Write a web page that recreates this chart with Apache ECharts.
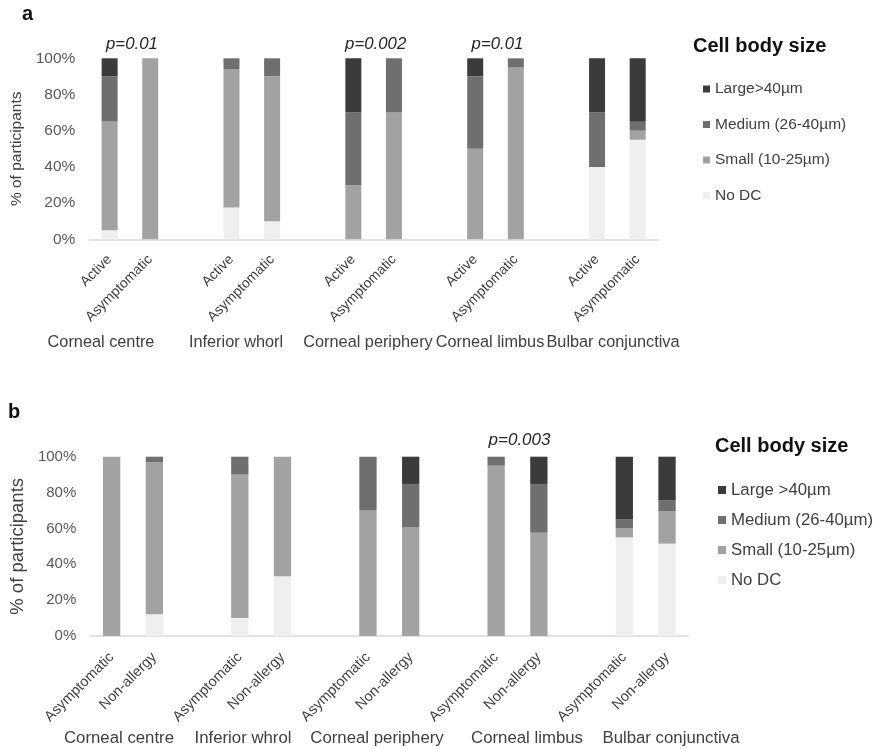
<!DOCTYPE html>
<html>
<head>
<meta charset="utf-8">
<script src="https://cdn.jsdelivr.net/npm/echarts@6/dist/echarts.min.js"></script>
<style>
  html, body { margin: 0; padding: 0; background: #ffffff; }
  #chart { width: 873px; height: 749px; }
</style>
</head>
<body>
<div id="chart"></div>
<script>
// ---- Panel a: Active vs Asymptomatic ----
const regionsA = ['Corneal centre', 'Inferior whorl', 'Corneal periphery', 'Corneal limbus', 'Bulbar conjunctiva'];
const groupsA = ['Active', 'Asymptomatic'];
// one value per bar, region by region (Active, Asymptomatic)
const noDcA   = [5, 0, 17.6, 10, 0, 0, 0, 0, 40, 55];
const smallA  = [60, 100, 76.5, 80, 30, 70, 50, 95, 0, 5];
const mediumA = [25, 0, 5.9, 10, 40, 30, 40, 5, 30, 5];
const largeA  = [10, 0, 0, 0, 30, 0, 10, 0, 30, 35];
const pValuesA = [['Corneal centre', 'p=0.01'], ['Corneal periphery', 'p=0.002'], ['Corneal limbus', 'p=0.01']];
const legendNamesA = ['Large>40µm', 'Medium (26-40µm)', 'Small (10-25µm)', 'No DC'];

// ---- Panel b: Asymptomatic vs Non-allergy ----
const regionsB = ['Corneal centre', 'Inferior whrol', 'Corneal periphery', 'Corneal limbus', 'Bulbar conjunctiva'];
const groupsB = ['Asymptomatic', 'Non-allergy'];
const noDcB   = [0, 12.1, 10, 33.3, 0, 0, 0, 0, 55, 51.5];
const smallB  = [100, 84.8, 80, 66.7, 70, 60.6, 95, 57.6, 5, 18.2];
const mediumB = [0, 3.1, 10, 0, 30, 24.2, 5, 27.2, 5, 6.1];
const largeB  = [0, 0, 0, 0, 0, 15.2, 0, 15.2, 35, 24.2];
const pValuesB = [['Corneal limbus', 'p=0.003']];
const legendNamesB = ['Large >40µm', 'Medium (26-40µm)', 'Small (10-25µm)', 'No DC'];

const yTicks = [0, 20, 40, 60, 80, 100];
const legendTitle = 'Cell body size';

// ---- styling ----
const FONT = 'Liberation Sans, Arial, Helvetica, sans-serif';
const shades = ['#3b3b3b', '#6f6f6f', '#a2a2a2', '#efefef'];   // large, medium, small, none
const TEXT = '#404040';

// Region label centres (px) under each panel
const regionLabelX = { a: [101, 236, 368, 490, 613], b: [119, 243, 377, 527, 671] };

// Build the category slots: two bars per region with an empty slot in between.
function buildCategories(regions, groups) {
  const cats = [];
  regions.forEach((r, i) => {
    groups.forEach(g => cats.push(g));
    if (i < regions.length - 1) cats.push('');
  });
  return cats;
}
function spread(values, regions, groups) {
  const out = [];
  let k = 0;
  regions.forEach((r, i) => {
    groups.forEach(() => out.push(values[k++]));
    if (i < regions.length - 1) out.push(null);
  });
  return out;
}

const catsA = buildCategories(regionsA, groupsA);
const catsB = buildCategories(regionsB, groupsB);

const chart = echarts.init(document.getElementById('chart'), null, { renderer: 'canvas' });

function stackSeries(names, values, regions, groups, axisIndex, stack, barWidth) {
  // bottom-up order: none, small, medium, large
  const order = [3, 2, 1, 0];
  return order.map(i => ({
    name: names[i],
    type: 'bar',
    stack: stack,
    xAxisIndex: axisIndex,
    yAxisIndex: axisIndex,
    barWidth: barWidth,
    itemStyle: { color: shades[i] },
    emphasis: { disabled: true },
    data: spread(values[i], regions, groups)
  }));
}

function xAxisFor(cats, gridIndex, fontSize, margin) {
  return {
    type: 'category', gridIndex: gridIndex, data: cats,
    axisLine: { lineStyle: { color: '#d9d9d9', width: 1.5 } },
    axisTick: { show: false },
    axisLabel: { interval: 0, rotate: 45, margin: margin, color: TEXT, fontFamily: FONT, fontSize: fontSize }
  };
}
function yAxisFor(gridIndex, labelSize, nameSize, nameGap) {
  return {
    type: 'value', gridIndex: gridIndex, min: 0, max: 100, interval: 20,
    name: '% of participants', nameLocation: 'middle', nameGap: nameGap, nameRotate: 90,
    nameTextStyle: { color: TEXT, fontFamily: FONT, fontSize: nameSize },
    axisLine: { show: false }, axisTick: { show: false }, splitLine: { show: false },
    axisLabel: { margin: 14, color: '#595959', fontFamily: FONT, fontSize: labelSize,
      formatter: v => yTicks.indexOf(v) >= 0 ? v + '%' : '' }
  };
}

const option = {
  animation: false,
  backgroundColor: '#ffffff',
  title: [
    { text: 'a', left: 22, top: 4, padding: 0, textStyle: { fontFamily: FONT, fontWeight: 'bold', fontSize: 20, color: '#111' } },
    { text: 'b', left: 8, top: 402, padding: 0, textStyle: { fontFamily: FONT, fontWeight: 'bold', fontSize: 20, color: '#111' } },
    { text: legendTitle, left: 693, top: 36, padding: 0, textStyle: { fontFamily: FONT, fontWeight: 'bold', fontSize: 20, color: '#111' } },
    { text: legendTitle, left: 715, top: 436, padding: 0, textStyle: { fontFamily: FONT, fontWeight: 'bold', fontSize: 20, color: '#111' } }
  ],
  legend: [
    { data: legendNamesA, orient: 'vertical', left: 703, top: 80, padding: 0, itemGap: 17.5,
      icon: 'rect', itemWidth: 7, itemHeight: 7, selectedMode: false,
      textStyle: { fontFamily: FONT, fontSize: 15.5, lineHeight: 18, color: TEXT } },
    { data: legendNamesB, orient: 'vertical', left: 718, top: 481, padding: 0, itemGap: 12,
      icon: 'rect', itemWidth: 8, itemHeight: 8, selectedMode: false,
      textStyle: { fontFamily: FONT, fontSize: 16.8, lineHeight: 18, color: TEXT } }
  ],
  grid: [
    { left: 89.3, top: 58.3, width: 568.7, height: 181 },
    { left: 83.6, top: 456.7, width: 604.8, height: 179.3 }
  ],
  xAxis: [ xAxisFor(catsA, 0, 14, 18), xAxisFor(catsB, 1, 14.5, 19) ],
  yAxis: [ yAxisFor(0, 15.5, 15.5, 58), yAxisFor(1, 15, 18.5, 53) ],
  series: [].concat(
    stackSeries(legendNamesA, [largeA, mediumA, smallA, noDcA], regionsA, groupsA, 0, 'a', 16),
    stackSeries(legendNamesB, [largeB, mediumB, smallB, noDcB], regionsB, groupsB, 1, 'b', 17.3)
  )
};
chart.setOption(option);

// Region names and p-values, placed from the axis scales
function overlay(regions, cats, groups, gridIdx, pList, labelXs, labelY, labelSize, pSize, pOffset) {
  const els = [];
  regions.forEach((r, i) => {
    els.push({ type: 'text', x: labelXs[i], y: labelY,
      style: { text: r, fill: TEXT, font: labelSize + 'px ' + FONT, textAlign: 'center', textVerticalAlign: 'middle' } });
  });
  pList.forEach(([region, txt]) => {
    const ri = regions.indexOf(region);
    const first = ri * (groups.length + 1);
    const p0 = chart.convertToPixel({ gridIndex: gridIdx }, [first, 100]);
    const p1 = chart.convertToPixel({ gridIndex: gridIdx }, [first + 1, 100]);
    els.push({ type: 'text', x: (p0[0] + p1[0]) / 2 + 2, y: p0[1] - pOffset,
      style: { text: txt, fill: '#262626', font: 'italic ' + pSize + 'px ' + FONT, textAlign: 'center', textVerticalAlign: 'middle' } });
  });
  return els;
}
chart.setOption({
  graphic: [].concat(
    overlay(regionsA, catsA, groupsA, 0, pValuesA, regionLabelX.a, 343, 16.3, 16.8, 14),
    overlay(regionsB, catsB, groupsB, 1, pValuesB, regionLabelX.b, 738, 16.8, 17, 16.5)
  )
});
</script>
</body>
</html>
